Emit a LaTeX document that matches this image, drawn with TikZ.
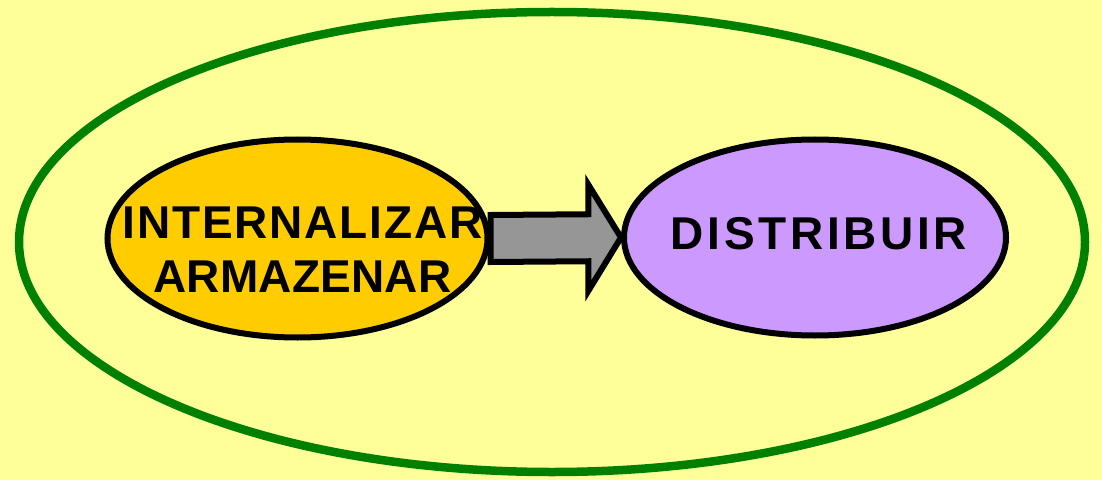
\documentclass[tikz,border=0pt]{standalone}
\usepackage{fontspec}
\setmainfont{Liberation Sans}
\usetikzlibrary{shapes.geometric,calc}
\definecolor{bgyellow}{HTML}{FFFF99}
\definecolor{ringgreen}{HTML}{008000}
\definecolor{gold}{HTML}{FFCC00}
\definecolor{lilac}{HTML}{CC99FF}
\definecolor{arrowgray}{HTML}{969696}
\tikzset{
  stage/.style={ellipse,draw=black,line width=6pt,inner sep=0pt},
  stagetext/.style={font=\fontsize{46}{54}\selectfont\bfseries,align=center,text=black},
  blockarrow/.style={draw=black,fill=arrowgray,line width=6pt,line join=miter},
}
\begin{document}
\begin{tikzpicture}[x=1pt,y=1pt]
\useasboundingbox (0,0) rectangle (1102,480);
\fill[bgyellow] (0,0) rectangle (1102,480);
%%
\node (ring) at (552,238) [ellipse,draw=ringgreen,line width=8.5pt,minimum width=1066pt,minimum height=460pt,inner sep=0pt] {};
\node (intern) at (297.5,241.5) [stage,fill=gold,minimum width=380pt,minimum height=198pt,
  label={[stagetext,xshift=5pt,yshift=-11pt]center:\addfontfeature{LetterSpace=4}INTERNALIZAR\\\addfontfeature{LetterSpace=0.5}ARMAZENAR}] {};
\node (distr) at (815,242.5) [stage,fill=lilac,minimum width=382pt,minimum height=196pt,
  label={[stagetext,xshift=4pt,yshift=4pt]center:\addfontfeature{LetterSpace=8}DISTRIBUIR}] {};
\coordinate (shaftend) at ($(intern.east)!0.75!(distr.west)$);
\draw [blockarrow] ($(intern.east)+(0,23.5)$) -- ($(shaftend)+(0,23.5)$) -- ($(shaftend)+(0,53)$)
  -- (distr.west) -- ($(shaftend)+(0,-53)$) -- ($(shaftend)+(0,-23.5)$) -- ($(intern.east)+(0,-23.5)$) -- cycle;
%
\end{tikzpicture}
\end{document}
